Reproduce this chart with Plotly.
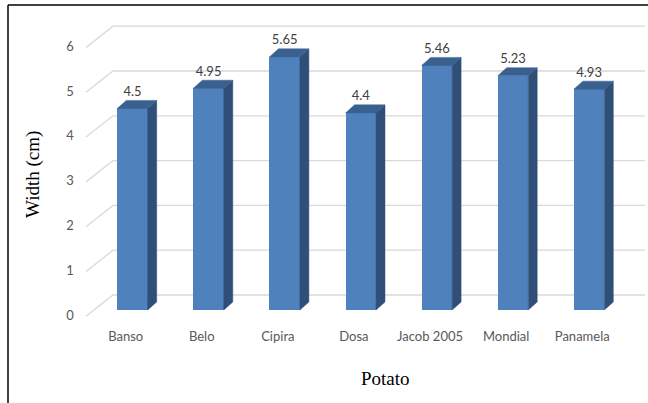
import plotly.graph_objects as go

# Potato tuber width by cultivar
potatoes = ["Banso", "Belo", "Cipira", "Dosa", "Jacob 2005", "Mondial", "Panamela"]
width_cm = [4.5, 4.95, 5.65, 4.4, 5.46, 5.23, 4.93]
y_ticks = [0, 1, 2, 3, 4, 5, 6]

# oblique 3-D look (in data units)
BAR_W = 0.40
DEPTH_X = 0.118
DEPTH_Y = 0.179
BACK_X0, BACK_X1, BACK_DY = -0.256, 6.735, 0.335
FRONT_X0, FRONT_DY = -0.611, -0.14

FRONT = "#4F81BD"
SIDE = "#2F4F78"
TOP = "#3A6090"
GRID = "#D9D9D9"

fig = go.Figure()

# back wall gridlines and floor diagonals, kept beneath the bars
grid_shapes = []
for t in y_ticks:
    grid_shapes.append(dict(
        type="path", xref="x", yref="y", layer="below",
        path=(f"M {FRONT_X0},{t + FRONT_DY} L {BACK_X0},{t + BACK_DY} "
              f"L {BACK_X1},{t + BACK_DY}"),
        line=dict(color=GRID, width=1.3)))

# value-axis labels along the front floor edge
fig.add_trace(go.Scatter(
    x=[FRONT_X0 - 0.21] * len(y_ticks), y=[t + FRONT_DY for t in y_ticks],
    mode="text", text=[str(t) for t in y_ticks],
    textfont=dict(family="Lato", size=13, color="#595959"),
    hoverinfo="skip", showlegend=False))

xs = list(range(len(potatoes)))

# side and top faces of each bar
for c, v in zip(xs, width_cm):
    r = c + BAR_W / 2
    l = c - BAR_W / 2
    fig.add_trace(go.Scatter(
        x=[r, r + DEPTH_X, r + DEPTH_X, r, r],
        y=[0, DEPTH_Y, v + DEPTH_Y, v, 0],
        fill="toself", fillcolor=SIDE, mode="lines",
        line=dict(color=SIDE, width=0.5),
        hoverinfo="skip", showlegend=False))
    fig.add_trace(go.Scatter(
        x=[l, r, r + DEPTH_X, l + DEPTH_X, l],
        y=[v, v, v + DEPTH_Y, v + DEPTH_Y, v],
        fill="toself", fillcolor=TOP, mode="lines",
        line=dict(color=TOP, width=0.5),
        hoverinfo="skip", showlegend=False))

# front faces
fig.add_trace(go.Bar(
    x=xs, y=width_cm, width=BAR_W,
    marker=dict(color=FRONT, line=dict(width=0)),
    hoverinfo="skip", showlegend=False))

# value labels above each bar
fig.add_trace(go.Scatter(
    x=xs, y=[v + 0.35 for v in width_cm], mode="text",
    text=[f"{v:g}" for v in width_cm],
    textfont=dict(family="Lato", size=13, color="#404040"),
    hoverinfo="skip", showlegend=False))

# category labels
fig.add_trace(go.Scatter(
    x=[c - 0.09 for c in xs], y=[-0.63] * len(xs), mode="text",
    text=potatoes,
    textfont=dict(family="Lato", size=13, color="#595959"),
    hoverinfo="skip", showlegend=False))

fig.update_layout(
    width=648, height=403,
    margin=dict(l=0, r=0, t=0, b=0),
    paper_bgcolor="white", plot_bgcolor="white",
    xaxis=dict(range=[-1.741, 6.774], visible=False, fixedrange=True),
    yaxis=dict(range=[-2.076, 6.920], visible=False, fixedrange=True),
    bargap=0,
    shapes=grid_shapes + [
        dict(type="line", xref="paper", yref="paper", x0=8 / 648, x1=1,
             y0=1 - 5 / 403, y1=1 - 5 / 403, line=dict(color="black", width=1.5)),
        dict(type="line", xref="paper", yref="paper", x0=8 / 648, x1=8 / 648,
             y0=0, y1=1 - 5 / 403, line=dict(color="black", width=1.5)),
    ],
    annotations=[
        dict(text="Width (cm)", xref="paper", yref="paper",
             x=33 / 648, y=1 - 175 / 403, showarrow=False, textangle=-90,
             font=dict(family="Liberation Serif", size=19, color="black"),
             xanchor="center", yanchor="middle"),
        dict(text="Potato", xref="paper", yref="paper",
             x=385 / 648, y=1 - 378 / 403, showarrow=False,
             font=dict(family="Liberation Serif", size=19, color="black"),
             xanchor="center", yanchor="middle"),
    ],
)

fig.write_html("out.html")
